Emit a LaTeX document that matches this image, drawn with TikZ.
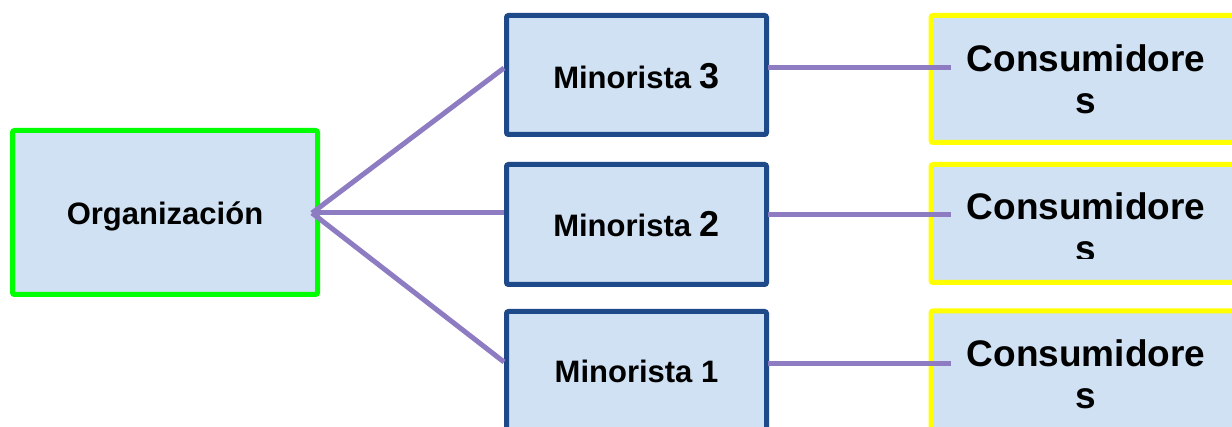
\documentclass[tikz,border=0pt]{standalone}
\usepackage{fontspec}
\setmainfont{Liberation Sans}
\usetikzlibrary{calc}
\definecolor{boxfill}{HTML}{CFE1F2}
\definecolor{darkblue}{HTML}{1F4A8A}
\definecolor{lgreen}{HTML}{00FF00}
\definecolor{lyellow}{HTML}{FFFF00}
\definecolor{linkpurple}{HTML}{8E7CC3}
\begin{document}
\begin{tikzpicture}[x=1pt,y=-1pt,
  basebox/.style={draw, fill=boxfill, line width=5pt, rounded corners=2pt, inner sep=0pt, align=center, font=\bfseries},
  orgbox/.style={basebox, draw=lgreen, minimum width=305pt, minimum height=164pt, font=\bfseries\fontsize{31}{37}\selectfont},
  minbox/.style={basebox, draw=darkblue, minimum width=260pt, minimum height=119pt, font=\bfseries\fontsize{31}{37}\selectfont},
  consbox/.style={basebox, draw=lyellow, minimum width=310pt, font=\bfseries\fontsize{37}{42}\selectfont},
  link/.style={draw=linkpurple, line width=5pt}]
\useasboundingbox (0,0) rectangle (1232,427);
\clip (0,0) rectangle (1232,427);
% boxes
\node[orgbox, label={[yshift=-3.5pt, font=\bfseries\fontsize{31}{37}\selectfont]center:Organización}] (org) at (165,212.5) {};
\node[minbox, label={[yshift=-1.5pt, font=\bfseries\fontsize{31}{37}\selectfont]center:Minorista {\fontsize{36}{37}\selectfont 3}}] (m3) at (636.5,75) {};
\node[minbox, minimum height=120pt] (m2) at (636.5,224.5) {Minorista {\fontsize{36}{37}\selectfont 2}};
\node[minbox] (m1) at (636.5,371) {Minorista 1};
\node[consbox, minimum height=127pt] (c3) at (1086,79) {Consumidore\\s};
\node[consbox, minimum height=118pt] (c2) at (1086,223.5) {};
\begin{scope}
  \clip (900,150) rectangle (1232,259);
  \node[font=\bfseries\fontsize{37}{42}\selectfont, align=center, inner sep=0pt] (c2t) at (1086,227) {Consumidore\\s};
\end{scope}
\node[consbox, minimum height=126pt] (c1) at (1086,374) {Consumidore\\s};
% connectors
\coordinate (hub) at ($(org.east)+(-8,0.5)$);
\draw[link] (hub) -- ($(m3.west)+(0,-7)$);
\draw[link] (hub) -- (m2.west |- hub);
\draw[link] (hub) -- ($(m1.west)+(0,-9)$);
\draw[link] ($(m3.east)+(-1,-7)$) -- ($(c3.west)+(22,-11)$);
\draw[link] ($(m2.east)+(-1,-9.5)$) -- ($(c2.west)+(22,-8.5)$);
\draw[link] ($(m1.east)+(-1,-7)$) -- ($(c1.west)+(22,-10)$);
\end{tikzpicture}
\end{document}
